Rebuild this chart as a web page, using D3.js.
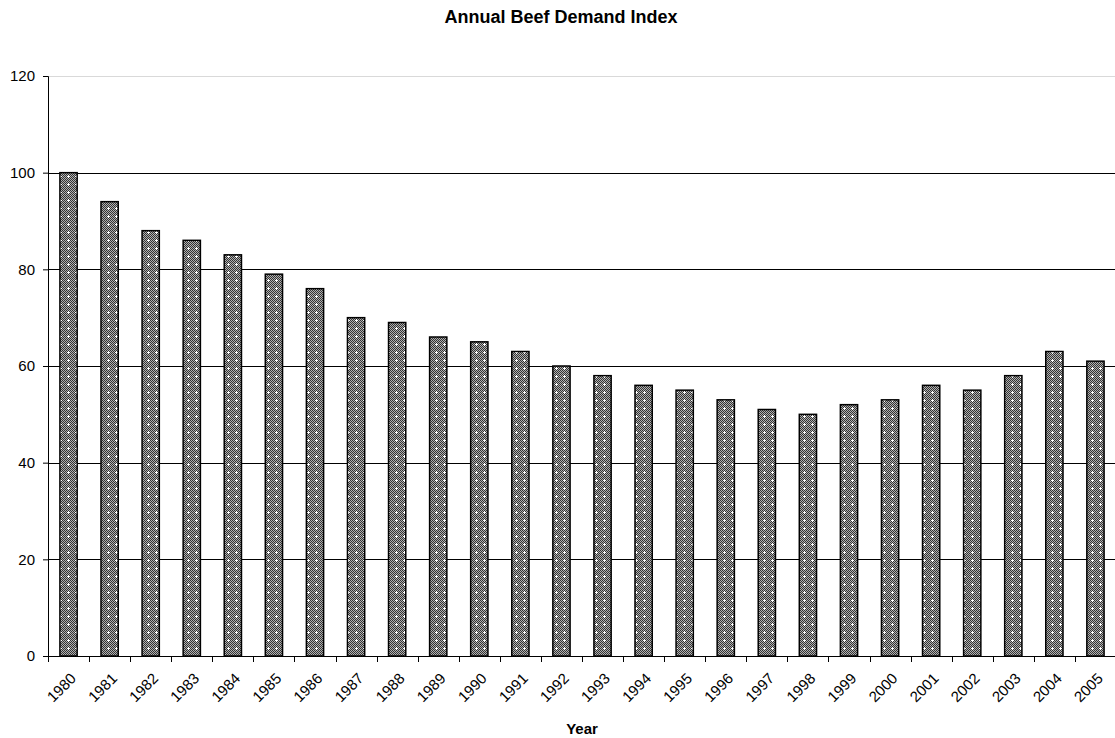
<!DOCTYPE html>
<html>
<head>
<meta charset="utf-8">
<script src="https://cdn.jsdelivr.net/npm/d3@7"></script>
<style>
  body { margin: 0; background: #fff; }
  svg { display: block; font-family: "Liberation Sans", Arial, sans-serif; }
</style>
</head>
<body>
<div id="chart"></div>
<script>
const years = ["1980", "1981", "1982", "1983", "1984", "1985", "1986", "1987", "1988", "1989",
  "1990", "1991", "1992", "1993", "1994", "1995", "1996", "1997", "1998", "1999",
  "2000", "2001", "2002", "2003", "2004", "2005"];
const demandIndex = [100, 94, 88, 86, 83, 79, 76, 70, 69, 66, 65, 63, 60, 58, 56, 55, 53, 51, 50, 52,
  53, 56, 55, 58, 63, 61];
const yTicks = [0, 20, 40, 60, 80, 100, 120];

const width = 1115;
const height = 738;
const margin = { top: 76, right: -1, bottom: 82, left: 48 };

const svg = d3.select("#chart")
  .append("svg")
  .attr("width", width)
  .attr("height", height);

// hatch fill like the old spreadsheet pattern
const pat = svg.append("defs").append("pattern")
  .attr("id", "hatch")
  .attr("patternUnits", "userSpaceOnUse")
  .attr("width", 8)
  .attr("height", 8);
pat.append("rect").attr("width", 8).attr("height", 8).attr("fill", "#b0b0b0");
for (let i = 0; i < 8; i++) {
  for (let j = 0; j < 8; j++) {
    if ((i + j) % 2 === 0) {
      pat.append("rect").attr("x", i).attr("y", j).attr("width", 1).attr("height", 1).attr("fill", "#333");
    }
  }
}
pat.append("rect").attr("x", 3).attr("y", 4).attr("width", 3).attr("height", 1).attr("fill", "#fff");
pat.append("rect").attr("x", 4).attr("y", 3).attr("width", 1).attr("height", 3).attr("fill", "#fff");

const innerW = width - margin.left - margin.right;
const innerH = height - margin.top - margin.bottom;

const x = d3.scaleBand()
  .domain(years)
  .range([0, innerW])
  .paddingInner(0.58)
  .paddingOuter(0.29);

const y = d3.scaleLinear()
  .domain([0, 120])
  .range([innerH, 0]);

const g = svg.append("g")
  .attr("transform", `translate(${margin.left},${margin.top})`);

// gridlines
g.append("g")
  .selectAll("line")
  .data(yTicks.filter((d) => d > 0))
  .enter()
  .append("line")
  .attr("x1", 0)
  .attr("x2", innerW)
  .attr("y1", (d) => Math.round(y(d)) + 0.5)
  .attr("y2", (d) => Math.round(y(d)) + 0.5)
  .attr("stroke", (d) => (d === 120 ? "#d9d9d9" : "#000"))
  .attr("stroke-width", 1);

// bars
g.append("g")
  .selectAll("rect")
  .data(demandIndex)
  .enter()
  .append("rect")
  .attr("x", (d, i) => x(years[i]))
  .attr("y", (d) => y(d))
  .attr("width", x.bandwidth())
  .attr("height", (d) => innerH - y(d))
  .attr("fill", "url(#hatch)")
  .attr("stroke", "#000")
  .attr("stroke-width", 1.5);

// y axis
const yAxis = g.append("g")
  .call(d3.axisLeft(y).tickValues(yTicks).tickSize(5).tickPadding(8));
yAxis.select(".domain").attr("stroke", "#000");
yAxis.selectAll("text").attr("font-size", 15).attr("fill", "#000")
  .attr("font-family", "Liberation Sans, Arial, sans-serif");

// x axis with ticks on category boundaries
const step = x.step();
const xAxis = g.append("g")
  .attr("transform", `translate(0,${innerH})`);
xAxis.append("line")
  .attr("x1", 0).attr("x2", innerW)
  .attr("y1", 0.5).attr("y2", 0.5)
  .attr("stroke", "#000");
xAxis.selectAll("line.tick")
  .data(years)
  .enter()
  .append("line")
  .attr("class", "tick")
  .attr("x1", (d) => Math.round(x(d) - x.paddingOuter() * step) + 0.5)
  .attr("x2", (d) => Math.round(x(d) - x.paddingOuter() * step) + 0.5)
  .attr("y1", 0)
  .attr("y2", 6)
  .attr("stroke", "#000");
xAxis.selectAll("text")
  .data(years)
  .enter()
  .append("text")
  .attr("transform", (d) => `translate(${x(d) + x.bandwidth() / 2 + 1},${16}) rotate(-45)`)
  .attr("text-anchor", "end")
  .attr("dy", "0.7em")
  .attr("font-size", 15)
  .attr("fill", "#000")
  .text((d) => d);

// axis title
svg.append("text")
  .attr("x", 582)
  .attr("y", 734)
  .attr("text-anchor", "middle")
  .attr("font-size", 15)
  .attr("font-weight", "bold")
  .text("Year");

// chart title
svg.append("text")
  .attr("x", 561)
  .attr("y", 23)
  .attr("text-anchor", "middle")
  .attr("font-size", 18)
  .attr("font-weight", "bold")
  .text("Annual Beef Demand Index");
</script>
</body>
</html>
